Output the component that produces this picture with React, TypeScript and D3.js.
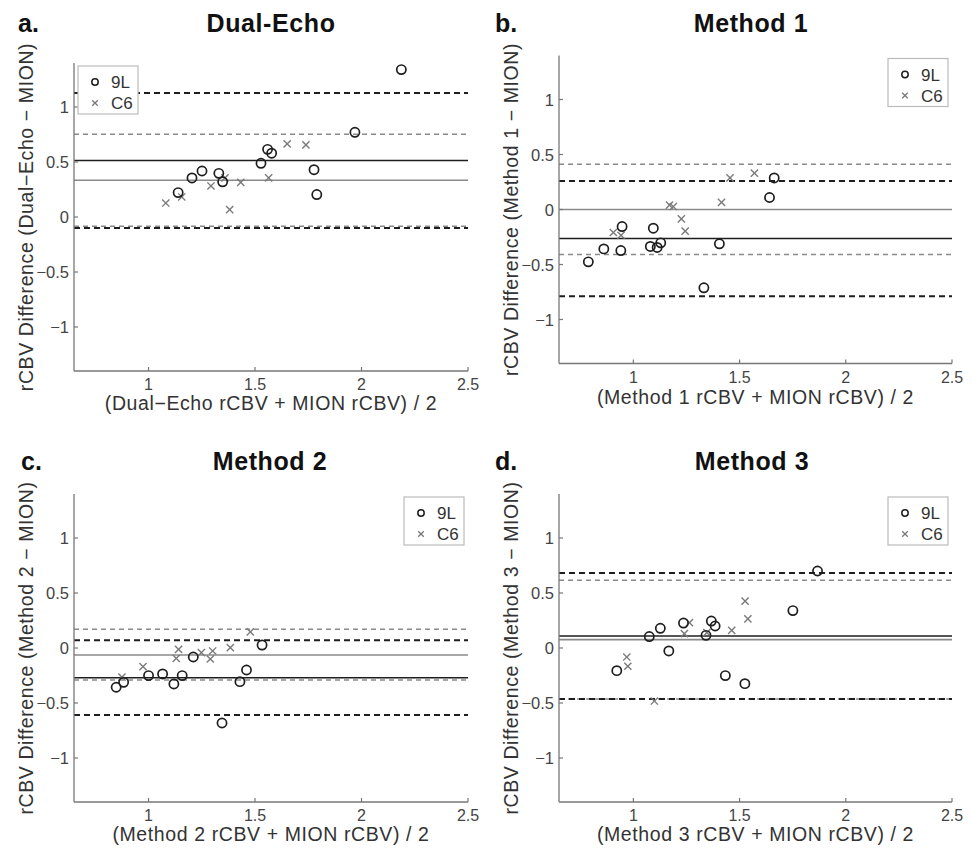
import React from "react";
import * as d3 from "d3";

// ---------- data ----------
const panelLetters = ["a.", "b.", "c.", "d."];
const panelTitles = ["Dual-Echo", "Method 1", "Method 2", "Method 3"];
const yLabels = [
  "rCBV Difference (Dual\u2212Echo \u2212 MION)",
  "rCBV Difference (Method 1 \u2212 MION)",
  "rCBV Difference (Method 2 \u2212 MION)",
  "rCBV Difference (Method 3 \u2212 MION)",
];
const xLabels = [
  "(Dual\u2212Echo rCBV + MION rCBV) / 2",
  "(Method 1 rCBV + MION rCBV) / 2",
  "(Method 2 rCBV + MION rCBV) / 2",
  "(Method 3 rCBV + MION rCBV) / 2",
];
const seriesNames = ["9L", "C6"];
const xTicks = [1, 1.5, 2, 2.5];
const yTicks = [-1, -0.5, 0, 0.5, 1];
const xDomain = [0.65, 2.5];
const yDomain = [-1.4, 1.4];

// 9L (circles)
const x9L_a = [2.187, 1.969, 1.559, 1.578, 1.528, 1.777, 1.79, 1.251, 1.204, 1.33, 1.348, 1.139];
const y9L_a = [1.34, 0.77, 0.615, 0.58, 0.488, 0.43, 0.204, 0.418, 0.355, 0.397, 0.32, 0.222];
const xC6_a = [1.081, 1.156, 1.293, 1.359, 1.381, 1.433, 1.564, 1.651, 1.739];
const yC6_a = [0.127, 0.182, 0.282, 0.355, 0.067, 0.315, 0.355, 0.664, 0.655];

const x9L_b = [0.788, 0.861, 0.941, 0.947, 1.094, 1.08, 1.112, 1.129, 1.405, 1.332, 1.641, 1.663];
const y9L_b = [-0.476, -0.358, -0.373, -0.155, -0.17, -0.336, -0.345, -0.303, -0.312, -0.712, 0.109, 0.287];
const xC6_b = [0.906, 0.942, 1.17, 1.188, 1.226, 1.244, 1.415, 1.455, 1.57];
const yC6_b = [-0.209, -0.234, 0.039, 0.027, -0.085, -0.197, 0.064, 0.287, 0.33];

const x9L_c = [0.848, 0.883, 1.0, 1.066, 1.119, 1.158, 1.21, 1.345, 1.429, 1.46, 1.533];
const y9L_c = [-0.357, -0.312, -0.251, -0.236, -0.327, -0.251, -0.082, -0.682, -0.306, -0.2, 0.027];
const xC6_c = [0.875, 0.974, 1.13, 1.141, 1.248, 1.29, 1.301, 1.384, 1.478];
const yC6_c = [-0.264, -0.17, -0.094, -0.012, -0.042, -0.1, -0.027, 0.003, 0.146];

const x9L_d = [0.922, 1.075, 1.127, 1.167, 1.236, 1.342, 1.367, 1.385, 1.433, 1.525, 1.751, 1.867];
const y9L_d = [-0.206, 0.104, 0.179, -0.027, 0.227, 0.115, 0.245, 0.2, -0.251, -0.324, 0.34, 0.7];
const xC6_d = [0.969, 0.974, 1.099, 1.24, 1.264, 1.346, 1.463, 1.526, 1.539];
const yC6_d = [-0.082, -0.166, -0.482, 0.131, 0.231, 0.14, 0.161, 0.427, 0.264];

// Bland-Altman lines: [mean, lower limit, upper limit]
const lines9L = [
  [0.513, -0.101, 1.127],
  [-0.264, -0.788, 0.26],
  [-0.27, -0.61, 0.07],
  [0.109, -0.464, 0.682],
];
const linesC6 = [
  [0.334, -0.084, 0.752],
  [0.0, -0.409, 0.412],
  [-0.064, -0.292, 0.17],
  [0.076, -0.463, 0.615],
];

const x9L = [x9L_a, x9L_b, x9L_c, x9L_d];
const y9L = [y9L_a, y9L_b, y9L_c, y9L_d];
const xC6 = [xC6_a, xC6_b, xC6_c, xC6_d];
const yC6 = [yC6_a, yC6_b, yC6_c, yC6_d];

// ---------- layout ----------
const frames = [
  { left: 74, right: 468, top: 63, bottom: 371, legendLeft: true, xLabY: 410 },
  { left: 559, right: 952, top: 55.5, bottom: 363.5, legendLeft: false, xLabY: 404 },
  { left: 74, right: 468, top: 494, bottom: 802, legendLeft: false, xLabY: 841 },
  { left: 559, right: 952, top: 494, bottom: 802, legendLeft: false, xLabY: 841 },
];
const titlePos = [
  { lx: 18, tx: 271, y: 31.5 },
  { lx: 495, tx: 751, y: 31.5 },
  { lx: 21, tx: 270, y: 470 },
  { lx: 495, tx: 752, y: 470 },
];

const FONT = "'Liberation Sans', Arial, Helvetica, sans-serif";
const AXIS = "#777";
const BLACK = "#1e1e1e";
const GRAY = "#8a8a8a";
const fmt = (v: number) => String(v).replace("-", "\u2212");

function Cross({ x, y, s, color, w }: { x: number; y: number; s: number; color: string; w: number }) {
  return (
    <g stroke={color} strokeWidth={w}>
      <line x1={x - s} y1={y - s} x2={x + s} y2={y + s} />
      <line x1={x - s} y1={y + s} x2={x + s} y2={y - s} />
    </g>
  );
}

function Panel({ i }: { i: number }) {
  const f = frames[i];
  const xs = d3.scaleLinear().domain(xDomain).range([f.left, f.right]);
  const ys = d3.scaleLinear().domain(yDomain).range([f.bottom, f.top]);
  const t = titlePos[i];
  const [m9, lo9, hi9] = lines9L[i];
  const [mc, loc, hic] = linesC6[i];
  const hline = (v: number, color: string, w: number, dash?: string) => (
    <line x1={f.left} x2={f.right} y1={ys(v)} y2={ys(v)} stroke={color} strokeWidth={w} strokeDasharray={dash} />
  );
  const lgW = 60, lgH = 48;
  const lgX = f.legendLeft ? f.left + 4 : f.right - 64;
  const lgY = f.top + 3;
  const cy = (f.top + f.bottom) / 2;
  return (
    <g fontFamily={FONT}>
      <text x={t.lx} y={t.y} fontSize={25} fontWeight="bold" fill="#111">{panelLetters[i]}</text>
      <text x={t.tx} y={t.y} fontSize={25} fontWeight="bold" fill="#111" textAnchor="middle" letterSpacing={0.6}>
        {panelTitles[i]}
      </text>
      {/* reference lines */}
      {hline(hic, GRAY, 1.5, "5,4")}
      {hline(loc, GRAY, 1.5, "5,4")}
      {hline(mc, GRAY, 1.6)}
      {hline(hi9, BLACK, 2, "6,4")}
      {hline(lo9, BLACK, 2, "6,4")}
      {hline(m9, BLACK, 1.5)}
      {/* axes */}
      <line x1={f.left} x2={f.left} y1={f.top} y2={f.bottom} stroke={AXIS} strokeWidth={1.3} />
      <line x1={f.left} x2={f.right} y1={f.bottom} y2={f.bottom} stroke={AXIS} strokeWidth={1.3} />
      {yTicks.map((v) => (
        <g key={"y" + v}>
          <line x1={f.left} x2={f.left + 4} y1={ys(v)} y2={ys(v)} stroke={AXIS} strokeWidth={1.2} />
          <text x={f.left - 5} y={ys(v) + 6} fontSize={16.5} fill="#444" textAnchor="end">{fmt(v)}</text>
        </g>
      ))}
      {xTicks.map((v) => (
        <g key={"x" + v}>
          <line x1={xs(v)} x2={xs(v)} y1={f.bottom} y2={f.bottom - 4} stroke={AXIS} strokeWidth={1.2} />
          <text x={xs(v)} y={f.bottom + 19} fontSize={16} fill="#444" textAnchor="middle">{fmt(v)}</text>
        </g>
      ))}
      <text x={(f.left + f.right) / 2} y={f.xLabY} fontSize={19.5} fill="#333" textAnchor="middle" letterSpacing={0.6}>
        {xLabels[i]}
      </text>
      <text
        transform={`translate(${f.left - 41},${cy}) rotate(-90)`}
        fontSize={19.5}
        fill="#333"
        textAnchor="middle"
        letterSpacing={0.6}
      >
        {yLabels[i]}
      </text>
      {/* points */}
      {xC6[i].map((x, k) => (
        <Cross key={"c" + k} x={xs(x)} y={ys(yC6[i][k])} s={3.6} color="#7a7a7a" w={1.4} />
      ))}
      {x9L[i].map((x, k) => (
        <circle key={"o" + k} cx={xs(x)} cy={ys(y9L[i][k])} r={4.6} fill="none" stroke={BLACK} strokeWidth={1.7} />
      ))}
      {/* legend */}
      <rect x={lgX} y={lgY} width={lgW} height={lgH} fill="#fff" stroke="#bbb" strokeWidth={1.2} />
      <circle cx={lgX + 17} cy={lgY + 16} r={3.2} fill="none" stroke={BLACK} strokeWidth={1.5} />
      <text x={lgX + 33} y={lgY + 22} fontSize={17} fill="#333">{seriesNames[0]}</text>
      <Cross x={lgX + 17} y={lgY + 37} s={2.8} color="#7a7a7a" w={1.3} />
      <text x={lgX + 33} y={lgY + 43} fontSize={17} fill="#333">{seriesNames[1]}</text>
    </g>
  );
}

export default function App() {
  return (
    <svg
      width={971}
      height={850}
      style={{ position: "absolute", left: 0, top: 0, background: "#fff" }}
    >
      <rect width={971} height={850} fill="#fff" />
      {[0, 1, 2, 3].map((i) => (
        <Panel key={i} i={i} />
      ))}
    </svg>
  );
}
